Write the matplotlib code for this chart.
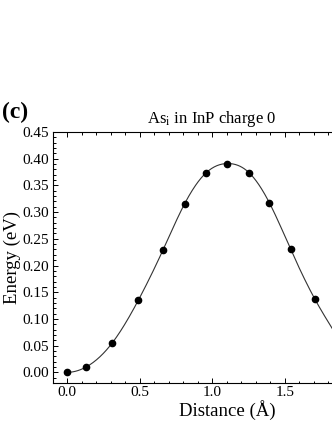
import numpy as np
import matplotlib
matplotlib.use("Agg")
import matplotlib.pyplot as plt
from matplotlib.ticker import MultipleLocator, FormatStrFormatter, FuncFormatter

plt.rcParams['font.family'] = ['Liberation Serif', 'DejaVu Serif']
plt.rcParams['mathtext.fontset'] = 'stix'

# NEB images
distance = [0.0, 0.13, 0.31, 0.49, 0.66, 0.81, 0.955, 1.105, 1.253, 1.393, 1.54, 1.708]
energy = [0.0, 0.010, 0.055, 0.135, 0.229, 0.316, 0.373, 0.391, 0.374, 0.318, 0.231, 0.137]
# where the fitted curve leaves the frame on the right
curve_end_x = [1.83]
curve_end_y = [0.081]


def spline(xk, yk, xs):
    # cubic spline, flat start, natural end
    xk = np.asarray(xk, float)
    yk = np.asarray(yk, float)
    n = len(xk)
    h = np.diff(xk)
    A = np.zeros((n, n))
    r = np.zeros(n)
    A[0, 0] = 2 * h[0]
    A[0, 1] = h[0]
    r[0] = 3 * (yk[1] - yk[0]) / h[0]
    A[-1, -1] = 1
    for i in range(1, n - 1):
        A[i, i - 1] = h[i - 1]
        A[i, i] = 2 * (h[i - 1] + h[i])
        A[i, i + 1] = h[i]
        r[i] = 3 * ((yk[i + 1] - yk[i]) / h[i] - (yk[i] - yk[i - 1]) / h[i - 1])
    c = np.linalg.solve(A, r)
    b = (yk[1:] - yk[:-1]) / h - h * (2 * c[:-1] + c[1:]) / 3
    d = (c[1:] - c[:-1]) / (3 * h)
    idx = np.clip(np.searchsorted(xk, xs) - 1, 0, n - 2)
    t = xs - xk[idx]
    return yk[idx] + b[idx] * t + c[idx] * t ** 2 + d[idx] * t ** 3


fig = plt.figure(figsize=(3.32, 4.30), dpi=100)
ax = fig.add_axes([0.159, 0.1093, 1.048, 0.5837])

xs = np.linspace(0, curve_end_x[0], 400)
ax.plot(xs, spline(distance + curve_end_x, energy + curve_end_y, xs),
        color='#333333', lw=0.8, zorder=2)
ax.plot(distance, energy, 'o', color='black', ms=4.5, zorder=3)

ax.set_xlim(-0.1, 2.3)
ax.set_ylim(-0.02, 0.45)
ax.xaxis.set_major_locator(MultipleLocator(0.5))
ax.xaxis.set_minor_locator(MultipleLocator(0.1))
ax.yaxis.set_major_locator(MultipleLocator(0.05))
ax.yaxis.set_minor_locator(MultipleLocator(0.01))
# labels past the figure edge are not shown
ax.xaxis.set_major_formatter(FuncFormatter(lambda v, p: '%.1f' % v if v < 1.8 else ''))
ax.yaxis.set_major_formatter(FormatStrFormatter('%.2f'))
ax.tick_params(which='both', direction='in', top=True, right=True,
               labelsize=11, width=0.7, pad=2.5)
ax.tick_params(which='major', length=3.5)
ax.tick_params(which='minor', length=1.8)
for s in ax.spines.values():
    s.set_linewidth(0.8)

fig.text(0.639, 0.713, r'As$_\mathrm{i}$ in InP charge 0', ha='center',
         va='baseline', fontsize=12)
fig.text(0.006, 0.7256, '(c)', ha='left', va='baseline', fontsize=17,
         fontweight='bold')
fig.text(0.684, 0.0465, 'Distance (Å)', ha='center', va='center', fontsize=13.5)
fig.text(0.036, 0.402, 'Energy (eV)', ha='center', va='center', fontsize=13.5,
         rotation=90)

fig.savefig('out.png', dpi=100)
